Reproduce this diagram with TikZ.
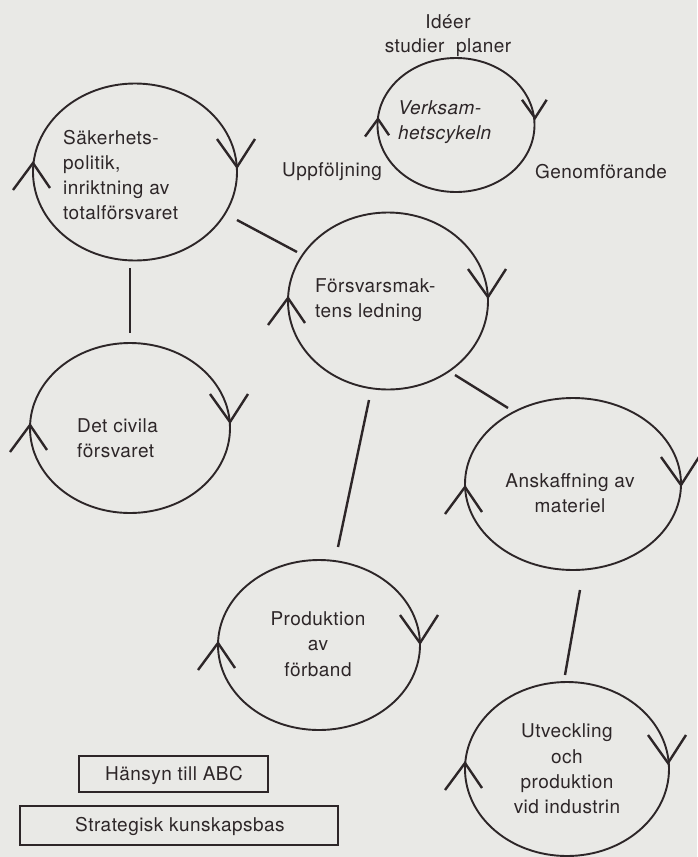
\documentclass[tikz,border=0pt]{standalone}
\usepackage{fontspec}
\setmainfont[LetterSpace=2.5]{TeX Gyre Heros}
\usetikzlibrary{shapes.geometric}
\definecolor{paper}{RGB}{233,233,230}
\definecolor{ink}{RGB}{45,38,40}
\begin{document}
\begin{tikzpicture}[x=1pt,y=-1pt,
  cyc/.style={draw=ink, line width=1.9pt, ellipse, inner sep=0pt, outer sep=0pt},
  conn/.style={draw=ink, line width=2.4pt},
  lbl/.style={text=ink, font=\fontsize{19}{25.3}\selectfont, inner sep=0pt},
  boxst/.style={draw=ink, line width=1.5pt, inner sep=0pt},
  pics/chevdown/.style={code={\draw[ink, line width=2.4pt] (-20,-28) -- (0,0) -- (18,-28);}},
  pics/chevup/.style={code={\draw[ink, line width=2.4pt] (-20,27) -- (0,0) -- (17,25);}},
]
\fill[paper] (0,0) rectangle (697,857);
\useasboundingbox (0,0) rectangle (697,857);

% ---- cycle legend ----
\node[cyc, minimum width=157pt, minimum height=134pt] (verk) at (456,125) {};
\pic[scale=0.65] at (535,118) {chevdown};
\pic[scale=0.65] at (378,119) {chevup};
\node[lbl] (ideer) at (448,22) {Idéer};
\node[lbl] (studier) at (448,48) {studier\ \ planer};
\node[lbl, anchor=west, align=left, font=\fontsize{19}{25.3}\selectfont\itshape] (verktext) at (398,122) {Verksam-\\hetscykeln};
\node[lbl] (uppf) at (332,172) {Uppföljning};
\node[lbl] (genom) at (601,172) {Genomförande};

% ---- circles ----
\node[cyc, minimum width=204pt, minimum height=177pt] (sak) at (135,172) {};
\node[cyc, minimum width=200pt, minimum height=177pt] (fm) at (388,301) {};
\node[cyc, minimum width=200pt, minimum height=170pt] (civ) at (130,428) {};
\node[cyc, minimum width=216pt, minimum height=172pt] (ansk) at (573,484) {};
\node[cyc, minimum width=202pt, minimum height=170pt] (prod) at (319,645) {};
\node[cyc, minimum width=204pt, minimum height=174pt] (utv) at (567,769) {};

% ---- chevrons ----
\pic at (237,167) {chevdown};  \pic at (33,163) {chevup};
\pic at (488,297) {chevdown};  \pic at (288,298) {chevup};
\pic at (230,422) {chevdown};  \pic at (30,425) {chevup};
\pic at (681,485) {chevdown};  \pic at (465,487) {chevup};
\pic at (420,643) {chevdown};  \pic at (218,643) {chevup};
\pic at (668,763) {chevdown};  \pic at (465,763) {chevup};

% ---- texts ----
\node[lbl, anchor=west, align=left] (saktext) at (63,175) {Säkerhets-\\politik,\\inriktning av\\totalförsvaret};
\node[lbl, anchor=west, align=left] (fmtext) at (315,300) {Försvarsmak-\\tens ledning};
\node[lbl, anchor=west, align=left] (civtext) at (77,438) {Det civila\\försvaret};
\node[lbl, align=center] (anskText) at (570,493) {Anskaffning av\\materiel};
\node[lbl, align=center] (prodtext) at (318,644) {Produktion\\av\\förband};
\node[lbl, align=center] (utvtext) at (567,769) {Utveckling\\och\\produktion\\vid industrin};

% ---- connectors ----
\coordinate (sf1) at (237,220); \coordinate (sf2) at (297,252);
\coordinate (sc1) at (130,268); \coordinate (sc2) at (130,333);
\coordinate (fa1) at (455,375); \coordinate (fa2) at (508,408);
\coordinate (fp1) at (369,400); \coordinate (fp2) at (338,547);
\coordinate (au1) at (580,590); \coordinate (au2) at (565,675);
\draw[conn] (sf1) -- (sf2);
\draw[conn] (sc1) -- (sc2);
\draw[conn] (fa1) -- (fa2);
\draw[conn] (fp1) -- (fp2);
\draw[conn] (au1) -- (au2);

% ---- boxes ----
\node[boxst, minimum width=189pt, minimum height=36pt] (abcbox) at (173.5,774) {};
\node[lbl] (abc) at (174,775) {Hänsyn till ABC};
\node[boxst, minimum width=318pt, minimum height=39pt] (kbox) at (179,825.5) {};
\node[lbl, anchor=west] (kuns) at (75,826) {Strategisk kunskapsbas};
\end{tikzpicture}
\end{document}
